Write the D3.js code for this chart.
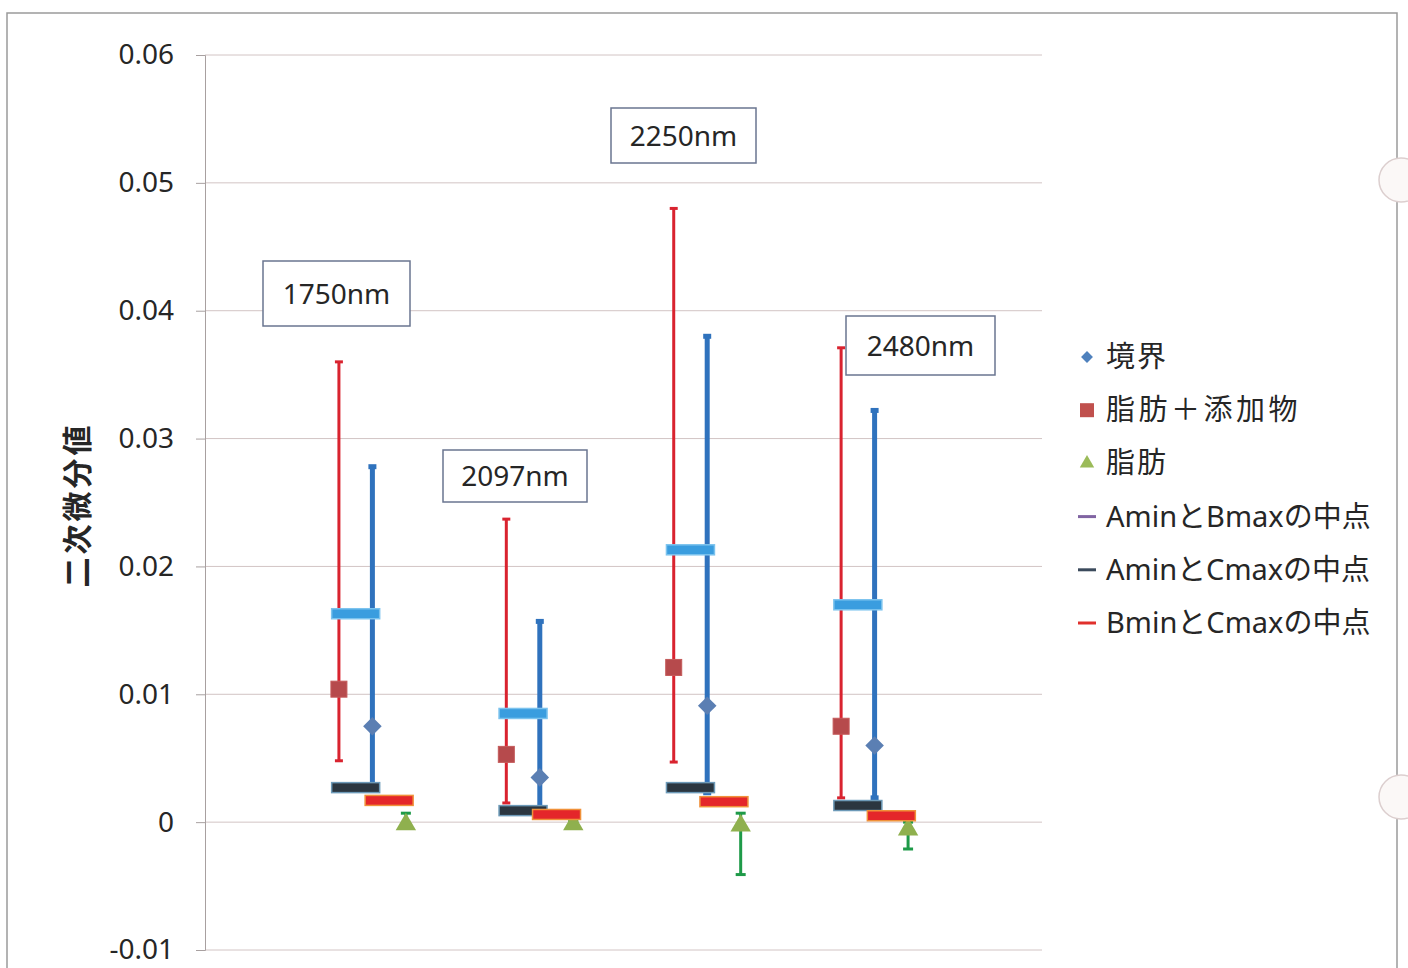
<!DOCTYPE html>
<html>
<head>
<meta charset="utf-8">
<script src="https://cdn.jsdelivr.net/npm/d3@7"></script>
<style>
  html, body { margin: 0; padding: 0; background: #ffffff; }
  svg { display: block; }
  text { font-family: "Noto Sans", "Noto Sans CJK JP", sans-serif; fill: #262626; }
</style>
</head>
<body>
<svg id="chart" width="1408" height="968"></svg>
<script>
// Wavelength groups
const categories = ["1750nm", "2097nm", "2250nm", "2480nm"];

// 脂肪＋添加物 (A): mean with max / min
const fatAddMean = [0.0104, 0.0053, 0.0121, 0.0075];
const fatAddMax  = [0.0360, 0.0237, 0.0480, 0.0371];
const fatAddMin  = [0.0048, 0.0015, 0.0047, 0.0019];

// 境界 (B): mean with max / min
const boundaryMean = [0.0075, 0.0035, 0.0091, 0.0060];
const boundaryMax  = [0.0278, 0.0157, 0.0380, 0.0322];
const boundaryMin  = [0.0028, 0.0011, 0.0023, 0.0019];

// 脂肪 (C): mean with max / min
const fatMean = [-0.0001, -0.0001, -0.0002, -0.0005];
const fatMax  = [0.0007, 0.0001, 0.0007, 0.0000];
const fatMin  = [-0.0001, -0.0001, -0.0041, -0.0021];

// Midpoints
const midAminBmax = [0.0163, 0.0085, 0.0213, 0.0170];
const midAminCmax = [0.0027, 0.0009, 0.0027, 0.0013];
const midBminCmax = [0.0017, 0.0006, 0.0016, 0.0005];

const yTicks = [-0.01, 0, 0.01, 0.02, 0.03, 0.04, 0.05, 0.06];
const yTickLabels = ["-0.01", "0", "0.01", "0.02", "0.03", "0.04", "0.05", "0.06"];
const yTitle = "二次微分値";

const legendItems = [
  { label: "境界", kind: "diamond", color: "#4f81bd", spacing: 2 },
  { label: "脂肪＋添加物", kind: "square", color: "#c0504d", spacing: 3.5 },
  { label: "脂肪", kind: "triangle", color: "#9bbb59", spacing: 2 },
  { label: "AminとBmaxの中点", kind: "line", color: "#8064a2", spacing: 0 },
  { label: "AminとCmaxの中点", kind: "line", color: "#3b4a5c", spacing: 0 },
  { label: "BminとCmaxの中点", kind: "line", color: "#e0302c", spacing: 0 }
];

// Wavelength call-out boxes
const callouts = [
  { text: "1750nm", x: 263, y: 261, w: 147, h: 65 },
  { text: "2097nm", x: 443, y: 450, w: 144, h: 52 },
  { text: "2250nm", x: 611, y: 108, w: 145, h: 55 },
  { text: "2480nm", x: 846, y: 316, w: 149, h: 59 }
];

const svg = d3.select("#chart");

// Paper frame with punch holes
svg.append("rect").attr("x", 7).attr("y", 13).attr("width", 1390).attr("height", 1000)
  .attr("fill", "#ffffff").attr("stroke", "#9a9a9a").attr("stroke-width", 1.5);
[180, 797].forEach(cy => {
  svg.append("circle").attr("cx", 1401).attr("cy", cy).attr("r", 22)
    .attr("fill", "#fbf8f7").attr("stroke", "#dccfcf").attr("stroke-width", 1.5);
});

const plot = { left: 205, right: 1042, top: 55, bottom: 950 };

const x = d3.scaleLinear().domain([0, 5]).range([plot.left, plot.right]);
const y = d3.scaleLinear().domain([-0.01, 0.06]).range([plot.bottom, plot.top]);

// Gridlines
const grid = svg.append("g");
grid.selectAll("line").data(yTicks).join("line")
  .attr("x1", plot.left).attr("x2", plot.right)
  .attr("y1", d => y(d)).attr("y2", d => y(d))
  .attr("stroke", "#d2c4c4").attr("stroke-width", 1);

// Y axis
const yAxis = d3.axisLeft(y).tickValues(yTicks)
  .tickFormat((d, i) => yTickLabels[i]).tickSize(9).tickPadding(22);
const yg = svg.append("g").attr("transform", `translate(${plot.left},0)`).call(yAxis);
yg.select(".domain").attr("stroke", "#a8a0a0").attr("stroke-width", 1);
yg.selectAll(".tick line").attr("stroke", "#a8a0a0");
yg.selectAll(".tick text").attr("font-size", 28).attr("font-family", "'Noto Sans', sans-serif").attr("fill", "#262626");

svg.append("text")
  .attr("transform", `translate(88,505) rotate(-90)`)
  .attr("text-anchor", "middle")
  .attr("font-family", "'Noto Sans CJK JP', sans-serif")
  .attr("font-weight", "bold").attr("font-size", 30).attr("letter-spacing", 3)
  .text(yTitle);

const idx = d3.range(categories.length);
const posA = i => x(i + 1 - 0.2);
const posB = i => x(i + 1);
const posC = i => x(i + 1 + 0.2);

function errorBars(g, xs, lo, hi, color, width, cap) {
  const eb = g.append("g");
  idx.forEach(i => {
    eb.append("line").attr("x1", xs(i)).attr("x2", xs(i))
      .attr("y1", y(hi[i])).attr("y2", y(lo[i]))
      .attr("stroke", color).attr("stroke-width", width);
    [hi[i], lo[i]].forEach(v => {
      eb.append("line").attr("x1", xs(i) - cap).attr("x2", xs(i) + cap)
        .attr("y1", y(v)).attr("y2", y(v))
        .attr("stroke", color).attr("stroke-width", width);
    });
  });
}

const marks = svg.append("g");

// 境界 (B)
errorBars(marks, posB, boundaryMin, boundaryMax, "#2f72bd", 5, 4);
marks.append("g").selectAll("path").data(idx).join("path")
  .attr("d", d3.symbol(d3.symbolDiamond2, 220)())
  .attr("transform", i => `translate(${posB(i)},${y(boundaryMean[i])})`)
  .attr("fill", "#5b7fb3");

// 脂肪＋添加物 (A)
errorBars(marks, posA, fatAddMin, fatAddMax, "#d9232f", 3, 4);
marks.append("g").selectAll("rect").data(idx).join("rect")
  .attr("x", i => posA(i) - 8).attr("y", i => y(fatAddMean[i]) - 8)
  .attr("width", 16).attr("height", 16)
  .attr("fill", "#b64a4c").attr("stroke", "#c45a5a").attr("stroke-width", 1);

// 脂肪 (C)
errorBars(marks, posC, fatMin, fatMax, "#1e9a48", 3, 5);
marks.append("g").selectAll("path").data(idx).join("path")
  .attr("d", d3.symbol(d3.symbolTriangle, 180)())
  .attr("transform", i => `translate(${posC(i)},${y(fatMean[i]) + 1})`)
  .attr("fill", "#8fb04e");

// Midpoint markers (wide dashes)
function dashMarks(values, xc, fill, stroke) {
  marks.append("g").selectAll("rect").data(idx).join("rect")
    .attr("x", i => xc(i) - 24).attr("y", i => y(values[i]) - 5)
    .attr("width", 48).attr("height", 10)
    .attr("fill", fill).attr("stroke", stroke).attr("stroke-width", 1.5);
}
dashMarks(midAminBmax, i => x(i + 1 - 0.1), "#3a9ddf", "#7cc3ee");
dashMarks(midAminCmax, i => x(i + 1 - 0.1), "#2b3640", "#6d9ab8");
dashMarks(midBminCmax, i => x(i + 1 + 0.1), "#e4262a", "#f0913a");

// Call-out boxes
const co = svg.append("g");
callouts.forEach(c => {
  co.append("rect").attr("x", c.x).attr("y", c.y).attr("width", c.w).attr("height", c.h)
    .attr("fill", "#ffffff").attr("stroke", "#6a7590").attr("stroke-width", 1.5);
  co.append("text").attr("x", c.x + c.w / 2).attr("y", c.y + c.h / 2 + 10)
    .attr("text-anchor", "middle").attr("font-size", 28)
    .attr("font-family", "'Noto Sans', sans-serif").attr("fill", "#262626")
    .text(c.text);
});

// Legend
const lg = svg.append("g").attr("transform", "translate(1087,357)");
legendItems.forEach((d, i) => {
  const row = lg.append("g").attr("transform", `translate(0,${i * 53.2})`);
  if (d.kind === "diamond") {
    row.append("path").attr("d", d3.symbol(d3.symbolDiamond2, 90)()).attr("fill", d.color);
  } else if (d.kind === "square") {
    row.append("rect").attr("x", -7).attr("y", -7).attr("width", 14).attr("height", 14).attr("fill", d.color);
  } else if (d.kind === "triangle") {
    row.append("path").attr("d", d3.symbol(d3.symbolTriangle, 90)()).attr("fill", d.color);
  } else {
    row.append("line").attr("x1", -9).attr("x2", 9).attr("y1", 0).attr("y2", 0)
      .attr("stroke", d.color).attr("stroke-width", 3);
  }
  row.append("text").attr("x", 19).attr("y", 10)
    .attr("font-size", 29).attr("letter-spacing", d.spacing)
    .attr("font-family", "'Noto Sans CJK JP', 'Noto Sans', sans-serif")
    .attr("fill", "#262626")
    .text(d.label);
});
</script>
</body>
</html>
